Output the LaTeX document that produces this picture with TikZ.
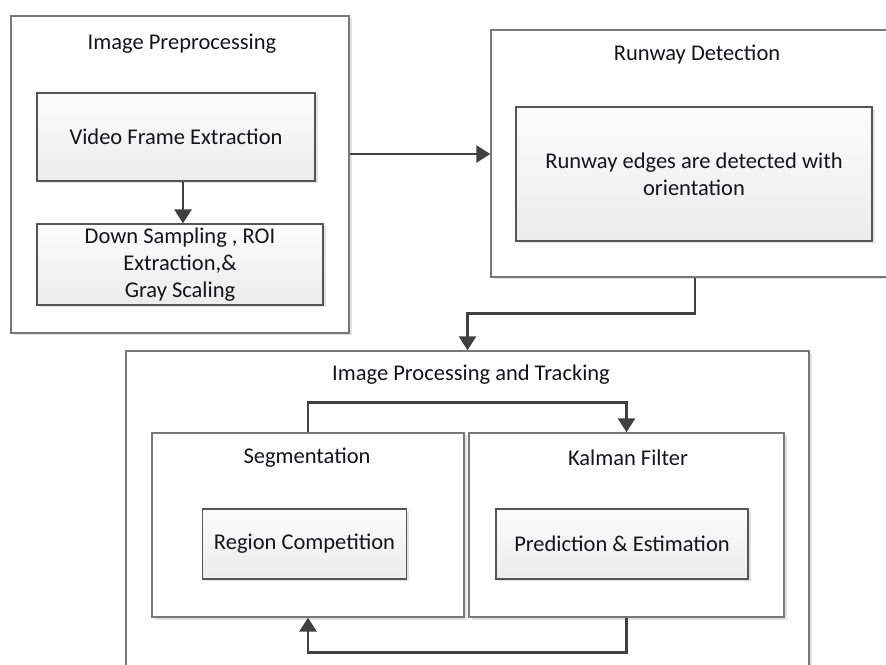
\documentclass[tikz,border=0pt]{standalone}
\usepackage{fontspec}
\setmainfont{Carlito}
\usepackage{tikz}
\usetikzlibrary{arrows.meta, positioning, calc, shadows}
\usepackage{xcolor}
\definecolor{cLine}{RGB}{120,120,120}
\definecolor{cInner}{RGB}{85,85,85}
\definecolor{cArrow}{RGB}{64,64,64}
\definecolor{cFillTop}{RGB}{252,252,252}
\definecolor{cFillBot}{RGB}{236,236,236}
\definecolor{cText}{RGB}{20,20,30}
\tikzset{
  basebox/.style={rectangle, align=center, text=cText,
                  font=\fontsize{22.5}{27}\selectfont,
                  drop shadow={shadow xshift=2.5pt, shadow yshift=-2.5pt,
                               fill=black!25, opacity=0.45}},
  groupbox/.style={basebox, draw=cLine, line width=1.4pt, fill=white},
  stepbox/.style={basebox, draw=cInner, line width=1.2pt,
                  top color=cFillTop, bottom color=cFillBot},
  titletext/.style={font=\fontsize{22.5}{27}\selectfont, text=cText},
  arrow/.style={-{Triangle[length=14pt, width=17pt]}, line width=2.8pt,
                color=cArrow}
}

\begin{document}
\begin{tikzpicture}[x=1pt, y=1pt]

  \useasboundingbox (0,0) rectangle (886,664);
  \clip (0,0) rectangle (886,664);

  % ── Groups ──
  \node[groupbox, minimum width=338pt, minimum height=317pt] (prep) at (180,489.5) {};
  \node[groupbox, minimum width=420pt, minimum height=247pt] (runway) at (701,510.5) {};
  \node[groupbox, minimum width=683pt, minimum height=349pt] (track) at (467.5,138.5) {};
  \node[groupbox, minimum width=312pt, minimum height=184pt] (seg) at (308,139) {};
  \node[groupbox, minimum width=315pt, minimum height=184pt] (kalman) at (626.5,139) {};

  % ── Titles ──
  \node[titletext] (preptitle) at (182,620) {Image Preprocessing};
  \node[titletext] (runwaytitle) at (697,609) {Runway Detection};
  \node[titletext] (tracktitle) at (471,289) {Image Processing and Tracking};
  \node[titletext] (segtitle) at (307,206) {Segmentation};
  \node[titletext] (kalmantitle) at (628,206) {Kalman Filter};

  % ── Steps ──
  \node[stepbox, minimum width=278pt, minimum height=88pt] (frames) at (176,527)
      {Video Frame Extraction};
  \node[stepbox, minimum width=286pt, minimum height=81pt] (downsample) at (180,399.5)
      {Down Sampling , ROI\\Extraction,\&\\Gray Scaling};
  \node[stepbox, minimum width=356pt, minimum height=134pt] (edges) at (694,490)
      {Runway edges are detected with\\orientation};
  \node[stepbox, minimum width=204pt, minimum height=70pt] (region) at (304.5,120)
      {Region Competition};
  \node[stepbox, minimum width=252pt, minimum height=70pt] (predict) at (622,120)
      {Prediction \& Estimation};

  \draw[arrow] ([xshift=7pt]frames.south) -- ([xshift=3pt]downsample.north);
  \draw[arrow] ([yshift=20.5pt]prep.east) -- ([yshift=20.5pt]prep.east -| runway.west);
  \draw[arrow] ([xshift=-6pt]runway.south) -- ++(0,-36) -| (track.north);
  \draw[arrow] (seg.north) -- ++(0,30) -| (kalman.north);
  \draw[arrow] (kalman.south) -- ++(0,-35) -| (seg.south);

\end{tikzpicture}
\end{document}
